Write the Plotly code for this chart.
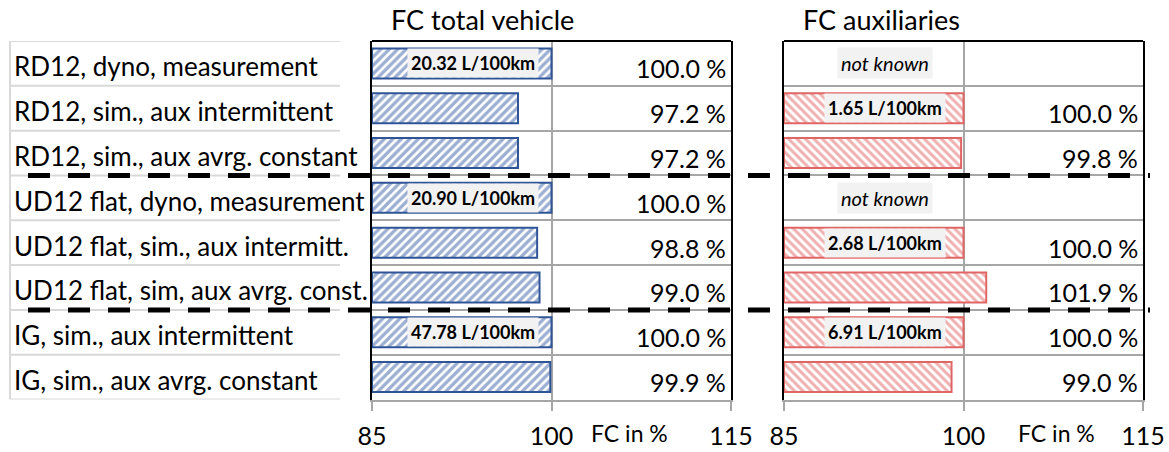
import plotly.graph_objects as go

# ---------------- data ----------------
categories = [
    "RD12, dyno, measurement",
    "RD12, sim., aux intermittent",
    "RD12, sim., aux avrg. constant",
    "UD12 flat, dyno, measurement",
    "UD12 flat, sim., aux intermitt.",
    "UD12 flat, sim, aux avrg. const.",
    "IG, sim., aux intermittent",
    "IG, sim., aux avrg. constant",
]
total_pct = [100.0, 97.2, 97.2, 100.0, 98.8, 99.0, 100.0, 99.9]
aux_pct = [None, 100.0, 99.8, None, 100.0, 101.9, 100.0, 99.0]
total_abs = ["20.32 L/100km", None, None, "20.90 L/100km", None, None, "47.78 L/100km", None]
aux_abs = ["not known", "1.65 L/100km", None, "not known", "2.68 L/100km", None, "6.91 L/100km", None]
panel_titles = ["FC total vehicle", "FC auxiliaries"]
axis_title = "FC in %"
tick_vals = [85, 100, 115]
group_breaks = [2.5, 5.5]

# ---------------- style ----------------
W, H = 1169, 452
FONT = "Lato"
BASE = 85
BLUE = "#2F5597"
BLUE_HATCH = "#3A5FA5"
RED = "#E06666"
RED_HATCH = "#E06262"
GRID = "#A6A6A6"
TABLE = "#D9D9D9"

def px(x):
    return x / W

def py(y):
    return 1 - y / H

dom_left = [px(372), px(731)]
dom_right = [px(784), px(1143)]
dom_y = [py(399.5), py(41)]
yrows = list(range(len(categories)))

fig = go.Figure()

fig.add_trace(go.Bar(
    y=yrows, x=[v - BASE for v in total_pct], base=BASE, orientation="h",
    width=0.67, xaxis="x", yaxis="y",
    marker=dict(color="white", line=dict(color=BLUE, width=2),
                pattern=dict(shape="/", fgcolor=BLUE_HATCH, bgcolor="white",
                             size=6, solidity=0.55)),
    hoverinfo="skip", showlegend=False,
))
fig.add_trace(go.Bar(
    y=yrows, x=[(v - BASE) if v is not None else None for v in aux_pct], base=BASE,
    orientation="h", width=0.67, xaxis="x2", yaxis="y2",
    marker=dict(color="white", line=dict(color=RED, width=2),
                pattern=dict(shape="\\", fgcolor=RED_HATCH, bgcolor="white",
                             size=6, solidity=0.5)),
    hoverinfo="skip", showlegend=False,
))

xcommon = dict(
    range=[85, 115], tickmode="array", tickvals=tick_vals,
    showgrid=True, gridcolor=GRID, gridwidth=2, zeroline=False,
    showline=True, linecolor=GRID, linewidth=2,
    ticks="outside", ticklen=9, tickwidth=2, tickcolor=GRID,
    tickfont=dict(family=FONT, size=25, color="black"),
    ticklabelstandoff=4, fixedrange=True, automargin=False,
)
ycommon = dict(
    range=[len(categories) - 0.5, -0.5], tickmode="array",
    tickvals=[i + 0.5 for i in range(len(categories) - 1)],
    showticklabels=False, showgrid=True, gridcolor=GRID, gridwidth=2,
    zeroline=False, showline=True, mirror=True, linecolor="black", linewidth=2,
    ticks="", domain=dom_y, fixedrange=True, automargin=False,
)

fig.update_layout(
    width=W, height=H, margin=dict(l=0, r=0, t=0, b=0, autoexpand=False),
    paper_bgcolor="white", plot_bgcolor="white",
    font=dict(family=FONT, color="black"),
    xaxis=dict(domain=dom_left, anchor="y", **xcommon),
    xaxis2=dict(domain=dom_right, anchor="y2", **xcommon),
    yaxis=dict(anchor="x", **ycommon),
    yaxis2=dict(anchor="x2", **ycommon),
    barmode="overlay",
)

shapes = []
# top borders
for xr, yr in (("x domain", "y domain"), ("x2 domain", "y2 domain")):
    shapes.append(dict(type="line", xref=xr, yref=yr, x0=0, x1=1, y0=1, y1=1,
                       line=dict(color="black", width=2), layer="above"))
# label table
for k in range(len(categories) + 1):
    shapes.append(dict(type="line", xref="paper", yref="y", x0=px(10), x1=px(340),
                       y0=k - 0.5, y1=k - 0.5, line=dict(color=TABLE, width=2)))
shapes.append(dict(type="line", xref="paper", yref="y", x0=px(10), x1=px(10),
                   y0=-0.5, y1=len(categories) - 0.5, line=dict(color=TABLE, width=2)))
# group separators
for g in group_breaks:
    shapes.append(dict(type="line", xref="paper", yref="y", x0=px(28), x1=px(1150),
                       y0=g, y1=g, line=dict(color="black", width=5, dash="22px,18px"),
                       layer="above"))
fig.update_layout(shapes=shapes)

ann = []
for i, c in enumerate(categories):
    ann.append(dict(text=c, xref="paper", yref="y", x=px(12), y=i, xanchor="left",
                    yanchor="middle", yshift=-3, showarrow=False,
                    font=dict(family=FONT, size=26, color="black")))
for xa, ya, vals in (("x", "y", total_pct), ("x2", "y2", aux_pct)):
    for i, v in enumerate(vals):
        if v is None:
            continue
        ann.append(dict(text=f"{v:.1f} %", xref=xa, yref=ya, x=115, y=i,
                        xanchor="right", yanchor="middle", xshift=-3, yshift=-5,
                        showarrow=False, font=dict(family=FONT, size=25, color="black")))
for xa, ya, labs in (("x", "y", total_abs), ("x2", "y2", aux_abs)):
    for i, t in enumerate(labs):
        if t is None:
            continue
        italic = not t[0].isdigit()
        ann.append(dict(
            text=(f"<i>{t}</i>" if italic else f"<b>{t}</b>"),
            xref=xa, yref=ya, x=92.5, y=i, xanchor="center", yanchor="middle",
            xshift=11, showarrow=False, bgcolor="#F2F2F2", borderpad=3,
            font=dict(family=FONT, size=(20 if italic else 18), color="black")))
for t, xc in zip(panel_titles, (482, 881)):
    ann.append(dict(text=t, xref="paper", yref="paper", x=px(xc), y=py(19),
                    xanchor="center", yanchor="middle", showarrow=False,
                    font=dict(family=FONT, size=27, color="black")))
for xc in (629, 1056):
    ann.append(dict(text=axis_title, xref="paper", yref="paper", x=px(xc), y=py(433),
                    xanchor="center", yanchor="middle", showarrow=False,
                    font=dict(family=FONT, size=23, color="black")))
fig.update_layout(annotations=ann)

fig.write_html("out.html", config={"displayModeBar": False, "staticPlot": True},
               post_script="document.body.style.margin='0px';")
